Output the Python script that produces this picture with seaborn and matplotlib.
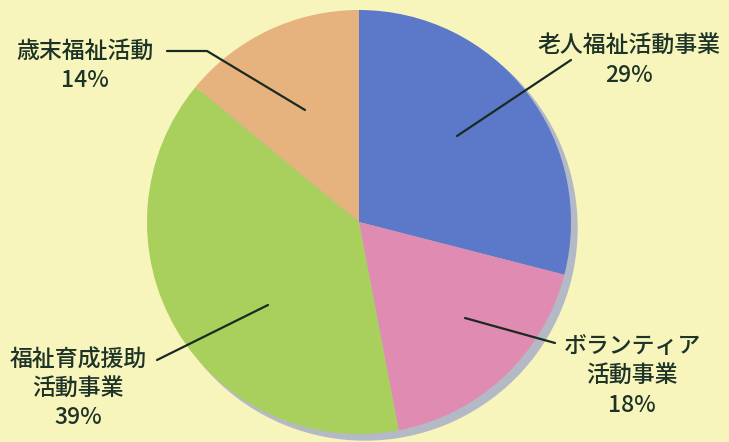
import matplotlib
matplotlib.use("Agg")
import matplotlib.pyplot as plt
import seaborn as sns
from matplotlib.patches import Circle

categories = ["老人福祉活動事業", "ボランティア\n活動事業", "福祉育成援助\n活動事業", "歳末福祉活動"]
values = [29, 18, 39, 14]
colors = ["#5b78c9", "#e08bb2", "#a9d05c", "#e6b27e"]

sns.set_theme(style="white")
plt.rcParams["font.family"] = ["Noto Sans CJK JP", "DejaVu Sans"]

BG = "#f7f5bc"
TXT = "#1e3327"
W, H = 729, 442
fig = plt.figure(figsize=(W / 100, H / 100), dpi=100, facecolor=BG)
ax = fig.add_axes([0, 0, 1, 1])
ax.set_facecolor(BG)

cx, cy, r = 359, H - 222, 212
# shadow
ax.add_patch(Circle((cx + 6, cy - 6), r, color="#b3bac6", zorder=0))
ax.pie(values, colors=colors, startangle=90, counterclock=False,
       center=(cx, cy), radius=r, frame=True,
       wedgeprops=dict(linewidth=0))
ax.set_xlim(0, W)
ax.set_ylim(0, H)
ax.set_aspect("equal")
ax.axis("off")

def y(p):
    return H - p

fs = 16.5
kw = dict(ha="center", va="center", fontsize=fs, color=TXT, fontweight="medium")
ax.text(629, y(61), "老人福祉活動事業\n29%", linespacing=1.35, **kw)
ax.text(85, y(66), "歳末福祉活動\n14%", linespacing=1.35, **kw)
ax.text(78, y(389), "福祉育成援助\n活動事業\n39%", linespacing=1.3, **kw)
ax.text(632, y(376), "ボランティア\n活動事業\n18%", linespacing=1.35, **kw)

lc = "#1a2a22"
ax.plot([167, 207, 305], [y(51), y(51), y(110)], color=lc, lw=1.6)
ax.plot([571, 457], [y(60), y(136)], color=lc, lw=1.6)
ax.plot([157, 268], [y(360), y(305)], color=lc, lw=1.6)
ax.plot([555, 465], [y(343), y(318)], color=lc, lw=1.6)

fig.savefig("out.png", dpi=100, facecolor=BG)
